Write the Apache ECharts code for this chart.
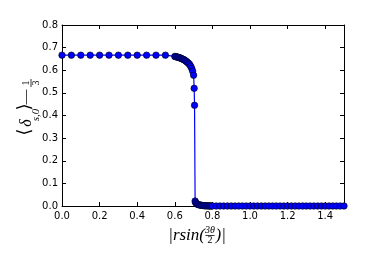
<!DOCTYPE html>
<html>
<head>
<meta charset="utf-8">
<script src="https://cdn.jsdelivr.net/npm/echarts@6/dist/echarts.min.js"></script>
<style>html,body{margin:0;padding:0;background:#fff;}#c{width:382px;height:253px;}</style>
</head>
<body>
<div id="c"></div>
<script>
var xValues = [
  0.00,0.05,0.10,0.15,0.20,0.25,0.30,0.35,0.40,0.45,0.50,0.55,
  0.600,0.605,0.610,0.615,0.620,0.625,0.630,0.635,0.640,0.645,0.650,0.655,0.660,0.665,0.670,0.675,0.680,0.685,0.690,0.695,0.700,
  0.703,0.705,0.708,
  0.710,0.715,0.720,0.725,0.730,0.735,0.740,0.745,0.750,0.755,0.760,0.765,0.770,0.775,0.780,0.785,0.790,0.795,
  0.80,0.82,0.84,0.86,0.88,0.90,0.92,0.94,0.96,0.98,1.00,1.02,1.04,1.06,1.08,1.10,1.12,1.14,1.16,1.18,
  1.20,1.22,1.24,1.26,1.28,1.30,1.32,1.34,1.36,1.38,1.40,1.42,1.44,1.46,1.48,1.50
];
var yValues = [
  0.6667,0.6667,0.6667,0.6667,0.6667,0.6667,0.6667,0.6667,0.6667,0.6667,0.6667,0.6667,
  0.661,0.660,0.659,0.658,0.657,0.655,0.654,0.652,0.650,0.648,0.646,0.643,0.640,0.637,0.633,0.629,0.624,0.617,0.608,0.596,0.578,
  0.520,0.445,0.022,
  0.016,0.011,0.008,0.006,0.005,0.004,0.003,0.0025,0.002,0.0015,0.001,0.001,0.0008,0.0006,0.0005,0.0004,0.0003,0.0002,
  0,0,0,0,0,0,0,0,0,0,0,0,0,0,0,0,0,0,0,0,
  0,0,0,0,0,0,0,0,0,0,0,0,0,0,0,0
];
var xTicks = [0.0,0.2,0.4,0.6,0.8,1.0,1.2,1.4];
var yTicks = [0.0,0.1,0.2,0.3,0.4,0.5,0.6,0.7,0.8];

var data = xValues.map(function(x,i){return [x,yValues[i]];});
var chart = echarts.init(document.getElementById('c'), null, {renderer:'canvas'});
var lab = {fontFamily:'DejaVu Sans', fontSize:10, color:'#000'};
function xAx(pos, show){
  return {type:'value', position:pos, min:0, max:1.5, interval:0.2,
    axisLine:{show:true, onZero:false, lineStyle:{color:'#000', width:1}},
    axisTick:{show:true, inside:true, length:4, lineStyle:{color:'#000'}},
    splitLine:{show:false},
    axisLabel:{show:show, margin:5, showMaxLabel:false, fontFamily:lab.fontFamily, fontSize:lab.fontSize, color:lab.color,
      formatter:function(v){return xTicks.indexOf(Math.round(v*10)/10)>=0 ? v.toFixed(1) : '';}}};
}
function yAx(pos, show){
  return {type:'value', position:pos, min:0, max:0.8, interval:0.1,
    axisLine:{show:true, onZero:false, lineStyle:{color:'#000', width:1}},
    axisTick:{show:true, inside:true, length:4, lineStyle:{color:'#000'}},
    splitLine:{show:false},
    axisLabel:{show:show, margin:4, fontFamily:lab.fontFamily, fontSize:lab.fontSize, color:lab.color,
      formatter:function(v){return yTicks.indexOf(Math.round(v*10)/10)>=0 ? v.toFixed(1) : '';}}};
}
var serif = 'Liberation Serif';
var option = {
  animation:false,
  backgroundColor:'#fff',
  grid:{left:62, right:38, top:25, bottom:47, containLabel:false},
  xAxis:[xAx('bottom', true), xAx('top', false)],
  yAxis:[yAx('left', true), yAx('right', false)],
  series:[{
    type:'line', data:data, xAxisIndex:0, yAxisIndex:0,
    symbol:'circle', symbolSize:6.5, showAllSymbol:true,
    lineStyle:{color:'#0000ff', width:1.2},
    itemStyle:{color:'#0000ff', borderColor:'#000', borderWidth:0.6}
  }],
  graphic:[
    {type:'group', children:[
      {type:'text', x:205, y:235.5, style:{text:'|rsin(', font:'italic 17px "'+serif+'"', fill:'#000', align:'right', verticalAlign:'middle'}},
      {type:'text', x:210, y:230.5, style:{text:'3θ', font:'italic 10px "'+serif+'"', fill:'#000', align:'center', verticalAlign:'middle'}},
      {type:'line', shape:{x1:205.5, y1:235.5, x2:214.5, y2:235.5}, style:{stroke:'#000', lineWidth:0.8}},
      {type:'text', x:210, y:240.5, style:{text:'2', font:'10px "'+serif+'"', fill:'#000', align:'center', verticalAlign:'middle'}},
      {type:'text', x:215.5, y:235.5, style:{text:')|', font:'italic 17px "'+serif+'"', fill:'#000', align:'left', verticalAlign:'middle'}}
    ]},
    {type:'group', x:32, y:136, rotation:Math.PI/2, children:[
      {type:'text', x:4, y:-7, style:{text:'⟨', font:'18px "DejaVu Serif"', fill:'#000', align:'center', verticalAlign:'middle'}},
      {type:'text', x:13, y:-5, style:{text:'δ', font:'italic 16px "'+serif+'"', fill:'#000', align:'center', verticalAlign:'middle'}},
      {type:'text', x:21, y:4.5, style:{text:'s,0', font:'italic 11px "'+serif+'"', fill:'#000', align:'center', verticalAlign:'middle'}},
      {type:'text', x:29, y:-7, style:{text:'⟩', font:'18px "DejaVu Serif"', fill:'#000', align:'center', verticalAlign:'middle'}},
      {type:'text', x:39, y:-6, style:{text:'—', font:'15px "'+serif+'"', fill:'#000', align:'center', verticalAlign:'middle'}},
      {type:'text', x:53, y:-5.5, style:{text:'1', font:'10px "'+serif+'"', fill:'#000', align:'center', verticalAlign:'middle'}},
      {type:'line', shape:{x1:49, y1:-1, x2:57, y2:-1}, style:{stroke:'#000', lineWidth:0.8}},
      {type:'text', x:53, y:4, style:{text:'3', font:'10px "'+serif+'"', fill:'#000', align:'center', verticalAlign:'middle'}}
    ]}
  ]
};
chart.setOption(option);
</script>
</body>
</html>
